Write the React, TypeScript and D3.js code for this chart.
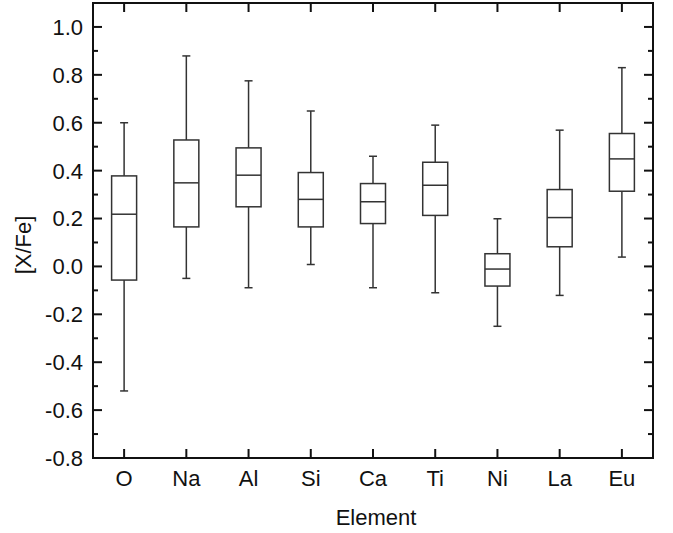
import React from "react";
import * as d3 from "d3";

const categories = ["O", "Na", "Al", "Si", "Ca", "Ti", "Ni", "La", "Eu"];
const whiskerLow = [-0.52, -0.05, -0.089, 0.008, -0.089, -0.11, -0.25, -0.121, 0.039];
const q1 = [-0.057, 0.165, 0.249, 0.165, 0.179, 0.213, -0.082, 0.082, 0.314];
const median = [0.218, 0.349, 0.381, 0.28, 0.27, 0.339, -0.011, 0.204, 0.449];
const q3 = [0.378, 0.528, 0.495, 0.392, 0.346, 0.435, 0.053, 0.321, 0.555];
const whiskerHigh = [0.6, 0.879, 0.775, 0.649, 0.46, 0.59, 0.199, 0.569, 0.83];
const yTicks = [-0.8, -0.6, -0.4, -0.2, 0.0, 0.2, 0.4, 0.6, 0.8, 1.0];
const yMinorTicks = [-0.7, -0.5, -0.3, -0.1, 0.1, 0.3, 0.5, 0.7, 0.9];

const W = 673;
const H = 533;
const L = 93, R = 653, T = 3, B = 458;
const font = "'Liberation Sans', Arial, sans-serif";

export default function App() {
  const x = d3.scaleBand<string>().domain(categories).range([L, R]).padding(0);
  const y = d3.scaleLinear().domain([-0.8, 1.1]).range([B, T]);
  const bw = 25;
  const cap = 8;
  const boxColor = "#333";
  const axisColor = "#111";

  return (
    <svg width={W} height={H} style={{ position: "absolute", left: 0, top: 0, background: "#fff" }}>
      {categories.map((c, i) => {
        const cx = (x(c) as number) + x.bandwidth() / 2;
        return (
          <g key={c} stroke={boxColor} strokeWidth={1.5} fill="none">
            <line x1={cx} x2={cx} y1={y(whiskerHigh[i])} y2={y(q3[i])} />
            <line x1={cx} x2={cx} y1={y(q1[i])} y2={y(whiskerLow[i])} />
            <line x1={cx - cap / 2} x2={cx + cap / 2} y1={y(whiskerHigh[i])} y2={y(whiskerHigh[i])} />
            <line x1={cx - cap / 2} x2={cx + cap / 2} y1={y(whiskerLow[i])} y2={y(whiskerLow[i])} />
            <rect x={cx - bw / 2} y={y(q3[i])} width={bw} height={y(q1[i]) - y(q3[i])} fill="#fff" />
            <line x1={cx - bw / 2} x2={cx + bw / 2} y1={y(median[i])} y2={y(median[i])} />
          </g>
        );
      })}
      <rect x={L} y={T} width={R - L} height={B - T} fill="none" stroke={axisColor} strokeWidth={2} />
      {yTicks.map((t) => (
        <g key={"yt" + t} stroke={axisColor} strokeWidth={2}>
          <line x1={L} x2={L + 9} y1={y(t)} y2={y(t)} />
          <line x1={R} x2={R - 9} y1={y(t)} y2={y(t)} />
        </g>
      ))}
      {yMinorTicks.map((t) => (
        <g key={"ym" + t} stroke={axisColor} strokeWidth={2}>
          <line x1={L} x2={L + 5} y1={y(t)} y2={y(t)} />
          <line x1={R} x2={R - 5} y1={y(t)} y2={y(t)} />
        </g>
      ))}
      {yTicks.map((t) => (
        <text key={"yl" + t} x={L - 10} y={y(t)} dy="0.36em" textAnchor="end" fontFamily={font} fontSize={22} fill="#111">
          {d3.format(".1f")(t).replace("−", "-")}
        </text>
      ))}
      {categories.map((c) => {
        const cx = (x(c) as number) + x.bandwidth() / 2;
        return (
          <g key={"xt" + c}>
            <line x1={cx} x2={cx} y1={B} y2={B - 9} stroke={axisColor} strokeWidth={2} />
            <line x1={cx} x2={cx} y1={T} y2={T + 9} stroke={axisColor} strokeWidth={2} />
            <text x={cx} y={486} textAnchor="middle" fontFamily={font} fontSize={22} fill="#111">
              {c}
            </text>
          </g>
        );
      })}
      <text x={376} y={525} textAnchor="middle" fontFamily={font} fontSize={22} fill="#111">
        Element
      </text>
      <text transform={`translate(31,245) rotate(-90)`} textAnchor="middle" fontFamily={font} fontSize={22} fill="#111">
        [X/Fe]
      </text>
    </svg>
  );
}
